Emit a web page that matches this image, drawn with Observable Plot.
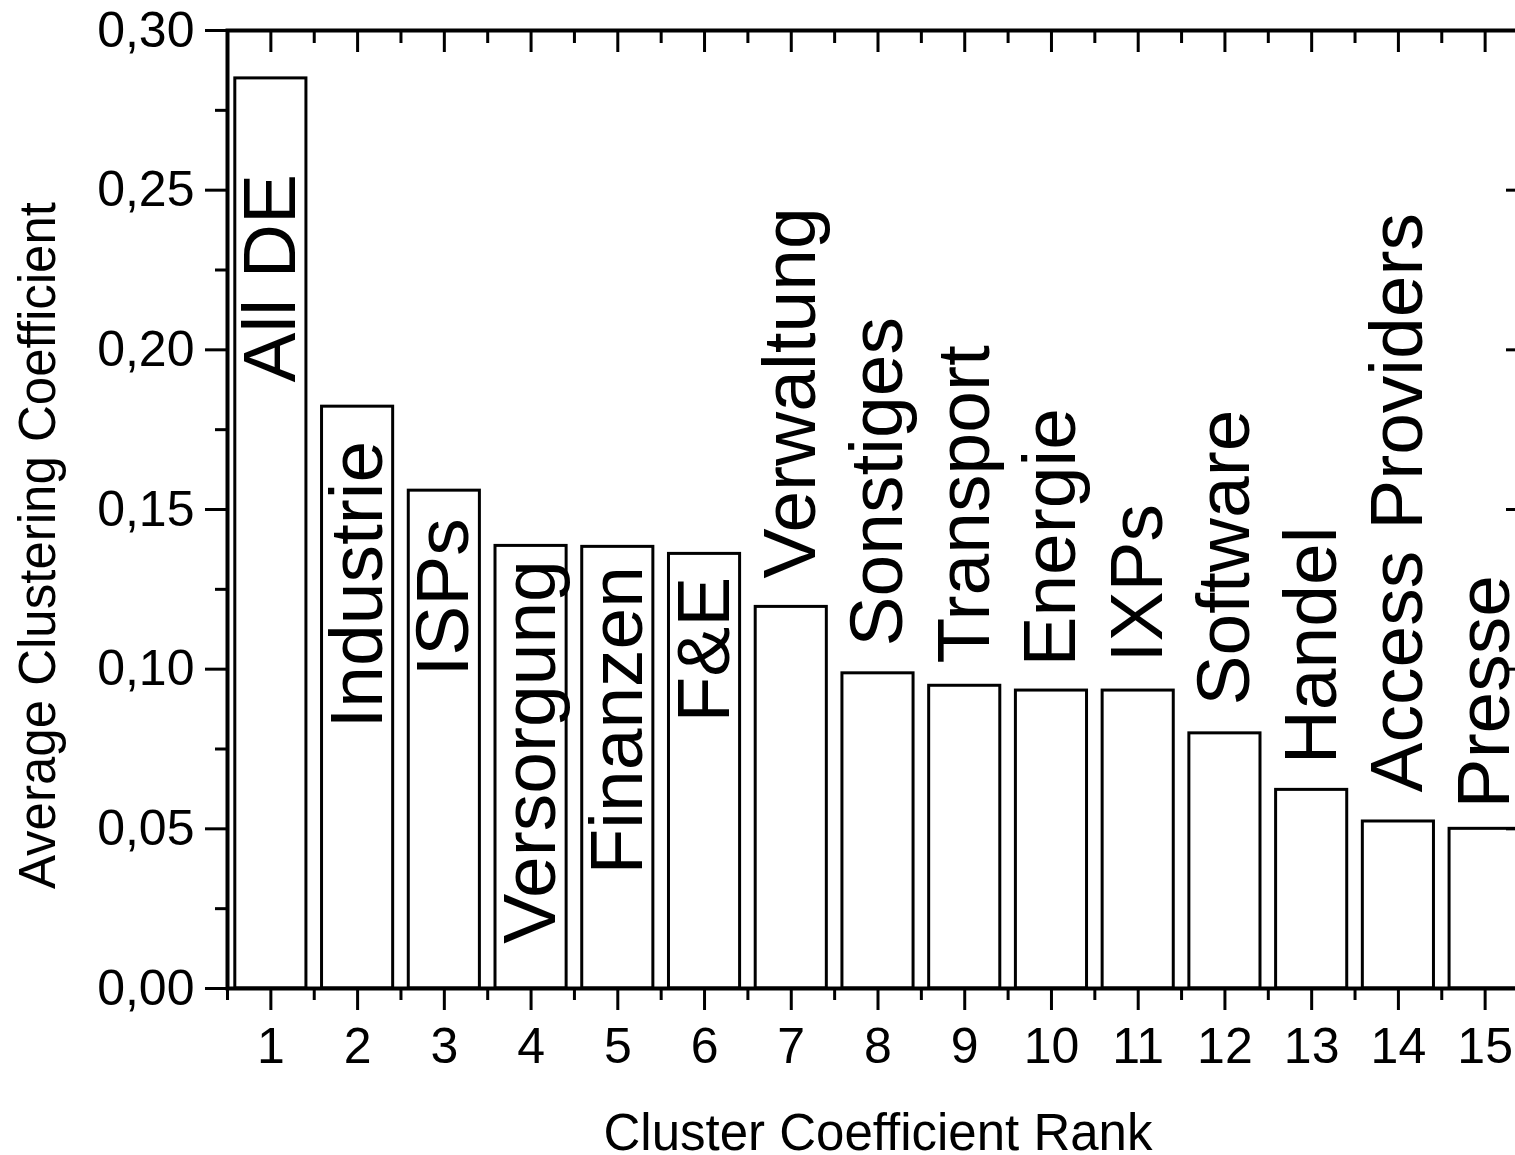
<!DOCTYPE html>
<html>
<head>
<meta charset="utf-8">
<script src="https://cdn.jsdelivr.net/npm/d3@7"></script>
<script src="https://cdn.jsdelivr.net/npm/@observablehq/plot@0.6"></script>
<style>
  html, body { margin: 0; padding: 0; background: #fff; overflow: hidden; }
  #chart { width: 1515px; height: 1155px; overflow: hidden; }
  #chart svg { display: block; max-width: none !important; width: 1540px !important; height: 1155px !important; }
</style>
</head>
<body>
<div id="chart"></div>
<script>
// ---- data ----
const ranks = [1, 2, 3, 4, 5, 6, 7, 8, 9, 10, 11, 12, 13, 14, 15];
const clusters = ["All DE", "Industrie", "ISPs", "Versorgung", "Finanzen", "F&E", "Verwaltung",
  "Sonstiges", "Transport", "Energie", "IXPs", "Software", "Handel", "Access Providers", "Presse"];
const coefficients = [0.285, 0.1822, 0.1559, 0.1386, 0.1383, 0.1361, 0.1195,
  0.0987, 0.0948, 0.0933, 0.0933, 0.0799, 0.0622, 0.0523, 0.0500];
// value (in coefficient units) at which each rotated label starts
const labelStart = [0.1898, 0.0814, 0.0977, 0.0140, 0.0357, 0.0833, 0.1284,
  0.1071, 0.1018, 0.1008, 0.1021, 0.0886, 0.0702, 0.0614, 0.0564];
const yTicks = [0, 0.05, 0.10, 0.15, 0.20, 0.25, 0.30];
const yMinorTicks = [0.025, 0.075, 0.125, 0.175, 0.225, 0.275];
const xTicks = ranks;
const xMinorTicks = [0.5, 1.5, 2.5, 3.5, 4.5, 5.5, 6.5, 7.5, 8.5, 9.5, 10.5, 11.5, 12.5, 13.5, 14.5, 15.5];
const xTitle = "Cluster Coefficient Rank";
const yTitle = "Average Clustering Coefficient";

const data = ranks.map((r, i) => ({rank: r, name: clusters[i], value: coefficients[i], labelY: labelStart[i]}));

const fmt = d => d.toFixed(2).replace(".", ",");
const blank = () => "";
const barHalf = 0.41;

const chart = Plot.plot({
  width: 1540,
  height: 1155,
  marginLeft: 227,
  marginRight: 12,
  marginTop: 30,
  marginBottom: 167,
  style: {fontFamily: "'Liberation Sans', Arial, sans-serif", color: "black", background: "white"},
  x: {type: "linear", domain: [0.5, 15.5]},
  y: {domain: [0, 0.30]},
  marks: [
    Plot.rectY(data, {
      x1: d => d.rank - barHalf, x2: d => d.rank + barHalf, y: "value",
      fill: "white", stroke: "black", strokeWidth: 3
    }),
    Plot.text(data, {
      x: "rank", y: "labelY", text: "name", rotate: -90,
      textAnchor: "start", lineAnchor: "middle", fontSize: 75, fill: "black"
    }),
    // left axis
    Plot.axisY(yTicks, {anchor: "left", tickSize: 22, tickPadding: 11, tickFormat: fmt,
      fontSize: 50, strokeWidth: 3, label: null}),
    Plot.axisY(yMinorTicks, {anchor: "left", tickSize: 12, tickFormat: blank, strokeWidth: 3, label: null}),
    // right axis (inward ticks)
    Plot.axisY(yTicks, {anchor: "right", tickSize: -23, tickFormat: blank, strokeWidth: 3, label: null}),
    Plot.axisY(yMinorTicks, {anchor: "right", tickSize: -12, tickFormat: blank, strokeWidth: 3, label: null}),
    // bottom axis
    Plot.axisX(xTicks, {anchor: "bottom", tickSize: 22, tickPadding: 17, tickFormat: d => String(d),
      fontSize: 50, strokeWidth: 3, label: null}),
    Plot.axisX(xMinorTicks, {anchor: "bottom", tickSize: 12, tickFormat: blank, strokeWidth: 3, label: null}),
    // top axis (inward ticks)
    Plot.axisX(xTicks, {anchor: "top", tickSize: -21, tickFormat: blank, strokeWidth: 3, label: null}),
    Plot.axisX(xMinorTicks, {anchor: "top", tickSize: -12, tickFormat: blank, strokeWidth: 3, label: null}),
    Plot.frame({stroke: "black", strokeWidth: 4}),
    // axis titles
    Plot.text([xTitle], {frameAnchor: "bottom", dy: 145, fontSize: 51, textAnchor: "middle",
      lineAnchor: "middle", fill: "black"}),
    Plot.text([yTitle], {frameAnchor: "left", dx: 38 - 227, dy: 36, rotate: -90, fontSize: 51,
      textAnchor: "middle", lineAnchor: "middle", fill: "black"})
  ]
});

document.getElementById("chart").appendChild(chart);
</script>
</body>
</html>
